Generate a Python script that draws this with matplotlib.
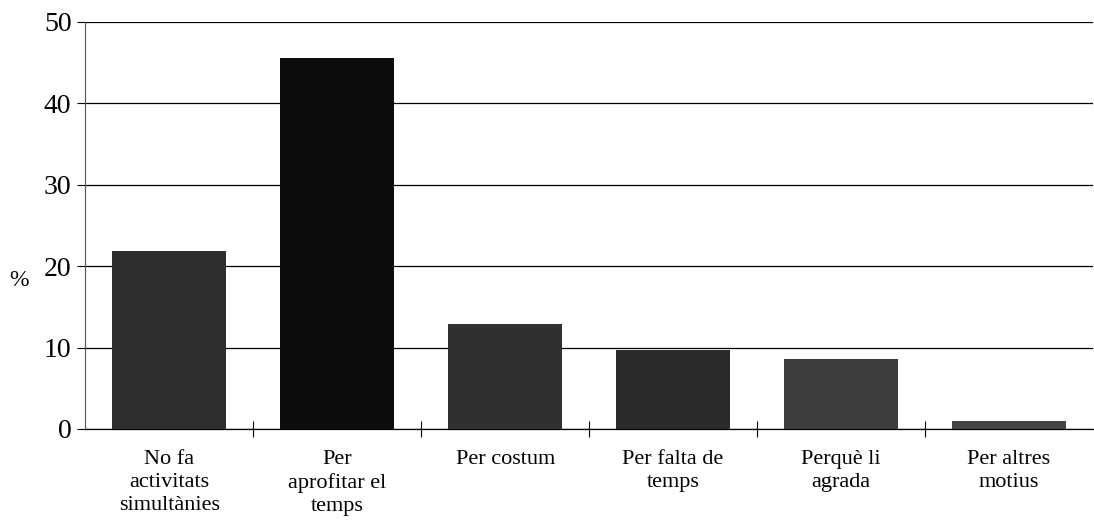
import matplotlib.pyplot as plt
from matplotlib.ticker import FixedLocator

categories = ["No fa\nactivitats\nsimultànies", "Per\naprofitar el\ntemps",
              "Per costum", "Per falta de\ntemps", "Perquè li\nagrada",
              "Per altres\nmotius"]
values = [21.8, 45.5, 12.9, 9.7, 8.6, 1.0]
colors = ["#2e2e2e", "#0c0c0c", "#303030", "#2a2a2a", "#3c3c3c", "#444444"]

plt.rcParams["font.family"] = ["Liberation Serif", "DejaVu Serif"]

fig = plt.figure(figsize=(10.94, 5.2), dpi=100)
ax = fig.add_axes([0.078, 0.175, 0.921, 0.783])

x = range(len(categories))
ax.bar(x, values, width=0.68, color=colors, zorder=3)

ax.set_xlim(-0.5, len(categories) - 0.5)
ax.set_ylim(0, 50)
ax.set_yticks([0, 10, 20, 30, 40, 50])
ax.yaxis.grid(True, color="black", linewidth=0.9, zorder=0)
ax.tick_params(axis="y", labelsize=20, length=6, width=0.8, pad=4)

ax.set_xticks(list(x))
ax.set_xticklabels(categories, fontsize=16, linespacing=1.3)
ax.tick_params(axis="x", which="major", length=0, pad=15)
ax.xaxis.set_minor_locator(FixedLocator([i + 0.5 for i in range(len(categories) - 1)]))
ax.tick_params(axis="x", which="minor", length=12, width=0.8, direction="inout")

for side in ["top", "right"]:
    ax.spines[side].set_visible(False)
ax.spines["left"].set_color("#555555")
ax.spines["left"].set_linewidth(0.8)
ax.spines["bottom"].set_linewidth(0.9)

ax.set_ylabel("%", rotation=0, fontsize=17)
ax.yaxis.set_label_coords(-0.066, 0.34)

fig.savefig("out.png")
